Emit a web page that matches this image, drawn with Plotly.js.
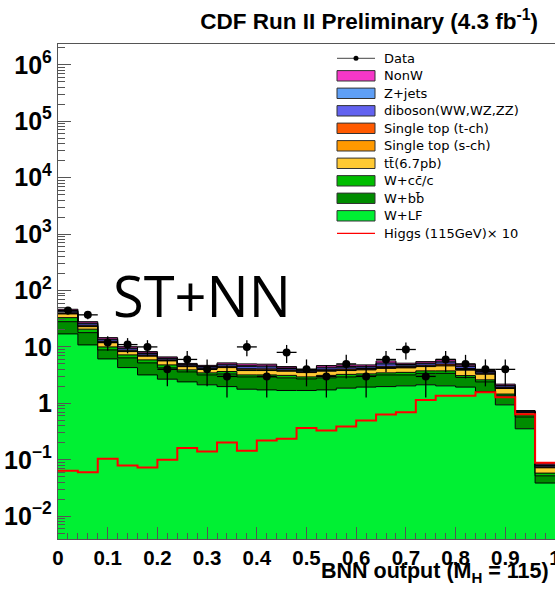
<!DOCTYPE html>
<html><head><meta charset="utf-8">
<script src="https://cdn.plot.ly/plotly-3.0.1.min.js"></script>
<style>html,body{margin:0;padding:0;background:#fff}#chart{width:555px;height:589px}</style>
</head><body><div id="chart"></div>
<script>
// ---- data ----
const binLow = [0.00,0.04,0.08,0.12,0.16,0.20,0.24,0.28,0.32,0.36,0.40,0.44,0.48,0.52,0.56,0.60,0.64,0.68,0.72,0.76,0.80,0.84,0.88,0.92,0.96];
const binHigh = 1.0;
const binWidth = 0.04;

const wLF     = [17.0,10.85,6.13,4.30,3.19,2.68,2.40,2.13,1.98,1.78,1.73,1.69,1.69,1.73,1.86,1.94,1.98,2.04,2.13,2.04,1.94,1.62,0.94,0.354,0.0387];
const wBB     = [11.0,7.05,2.72,2.09,2.02,1.57,1.21,1.06,1.35,1.16,1.21,1.14,1.02,1.10,1.08,1.13,1.21,1.15,1.27,1.36,0.94,0.78,0.42,0.22,0.0133];
const wCC     = [5.0,2.7,1.15,0.83,0.68,0.55,0.31,0.28,0.33,0.25,0.25,0.30,0.23,0.30,0.32,0.26,0.28,0.35,0.36,0.36,0.22,0.21,0.10,0.05,0.006];
const ttbar   = [5.4,2.3,1.9,1.04,0.96,0.85,0.55,0.53,0.64,0.62,0.62,0.58,0.57,0.58,0.55,0.59,0.69,0.71,0.72,0.85,0.77,0.68,0.37,0.055,0.014];
const stS     = [0.8,0.5,0.27,0.18,0.14,0.10,0.06,0.07,0.09,0.12,0.11,0.08,0.05,0.10,0.10,0.09,0.15,0.09,0.10,0.14,0.11,0.05,0.04,0.007,0.0013];
const stT     = [1.2,0.8,0.40,0.28,0.21,0.15,0.10,0.11,0.14,0.18,0.17,0.12,0.08,0.14,0.15,0.13,0.22,0.14,0.15,0.21,0.16,0.08,0.05,0.010,0.002];
const diboson = [2.4,1.5,0.80,0.55,0.42,0.30,0.19,0.21,0.28,0.36,0.34,0.23,0.16,0.29,0.30,0.26,0.45,0.27,0.30,0.42,0.32,0.16,0.11,0.020,0.004];
const zjets   = [1.2,0.8,0.40,0.28,0.21,0.15,0.09,0.11,0.13,0.18,0.17,0.11,0.08,0.14,0.15,0.13,0.22,0.13,0.15,0.21,0.16,0.08,0.05,0.010,0.002];
const nonW    = [2.5,1.5,0.83,0.55,0.43,0.30,0.19,0.21,0.27,0.35,0.34,0.23,0.15,0.29,0.29,0.27,0.45,0.27,0.31,0.42,0.32,0.15,0.11,0.019,0.0037];

const higgsX10   = [0.064,0.060,0.104,0.079,0.073,0.100,0.161,0.140,0.202,0.144,0.220,0.235,0.364,0.330,0.388,0.496,0.634,0.698,1.15,1.36,1.36,1.58,1.28,0.64,0.0885];
const dataCounts = [44,37,12,11,10,4,6,4,3,10,3,8,4,3,5,3,6,9,3,6,5,4,4,null,null];

// stack order: bottom -> top
const stackSeries = [wLF, wBB, wCC, ttbar, stS, stT, diboson, zjets, nonW];
const stackNames  = ['W+LF','W+bb\u0304','W+cc\u0304/c','tt\u0304(6.7pb)','Single top (s-ch)','Single top (t-ch)','diboson(WW,WZ,ZZ)','Z+jets','NonW'];
const stackColors = ['#00f033','#008c00','#00bd00','#ffc933','#ff9900','#ff5a00','#6262f0','#5f9ff5','#f637c8'];
const dataName  = 'Data';
const higgsName = 'Higgs (115GeV)\u00d7 10';

// ---- traces ----
const stepX = binLow.concat([binHigh]);
const traces = [];
let cum = binLow.map(() => 0);
stackSeries.forEach((s, k) => {
  cum = cum.map((c, i) => c + s[i]);
  traces.push({
    type: 'scatter', mode: 'lines', name: stackNames[k],
    x: stepX, y: cum.concat([cum[cum.length - 1]]),
    line: {shape: 'hv', color: '#000', width: 1},
    fill: k === 0 ? 'tozeroy' : 'tonexty',
    fillcolor: stackColors[k], hoverinfo: 'skip', showlegend: false
  });
});
traces.push({
  type: 'scatter', mode: 'lines', name: higgsName,
  x: stepX, y: higgsX10.concat([higgsX10[higgsX10.length - 1]]),
  line: {shape: 'hv', color: '#ff0000', width: 2}, showlegend: false
});
const centers = binLow.map(v => v + binWidth / 2);
traces.push({
  type: 'scatter', mode: 'markers', name: dataName,
  x: centers, y: dataCounts,
  marker: {color: '#000', size: 8},
  error_y: {type: 'data', array: dataCounts.map(v => v == null ? null : Math.sqrt(v)), width: 0, thickness: 1.3, color: '#000'},
  error_x: {type: 'constant', value: binWidth / 2, width: 0, thickness: 1.3, color: '#000'},
  showlegend: false
});

// ---- layout helpers (pixel -> paper) ----
const L = 58, T = 44, W = 497, H = 495;
const PX = px => (px - L) / W;
const PY = py => (T + H - py) / H;

const shapes = [];
const annotations = [];
// manual ROOT-style legend
const legendRows = [
  {name: dataName, kind: 'data'},
  {name: stackNames[8], color: stackColors[8]},
  {name: stackNames[7], color: stackColors[7]},
  {name: stackNames[6], color: stackColors[6]},
  {name: stackNames[5], color: stackColors[5]},
  {name: stackNames[4], color: stackColors[4]},
  {name: stackNames[3], color: stackColors[3]},
  {name: stackNames[2], color: stackColors[2]},
  {name: stackNames[1], color: stackColors[1]},
  {name: stackNames[0], color: stackColors[0]},
  {name: higgsName, kind: 'line'}
];
legendRows.forEach((r, i) => {
  const yc = 58.3 + 17.5 * i;
  if (r.kind === 'data') {
    shapes.push({type: 'line', xref: 'paper', yref: 'paper', x0: PX(337), x1: PX(375), y0: PY(yc), y1: PY(yc), line: {color: '#444', width: 1}});
    shapes.push({type: 'circle', xref: 'paper', yref: 'paper', x0: PX(353.5), x1: PX(358.5), y0: PY(yc - 2.5), y1: PY(yc + 2.5), fillcolor: '#000', line: {width: 0}});
  } else if (r.kind === 'line') {
    shapes.push({type: 'line', xref: 'paper', yref: 'paper', x0: PX(337), x1: PX(375), y0: PY(yc), y1: PY(yc), line: {color: '#ff0000', width: 1.3}});
  } else {
    shapes.push({type: 'rect', xref: 'paper', yref: 'paper', x0: PX(337), x1: PX(375), y0: PY(yc - 5.2), y1: PY(yc + 5.2), fillcolor: r.color, line: {color: '#333', width: 1}});
  }
  annotations.push({text: r.name, xref: 'paper', yref: 'paper', x: PX(382), y: PY(yc), xanchor: 'left', yanchor: 'middle', showarrow: false,
    font: {family: 'DejaVu Sans', size: 13, color: '#000'}});
});
annotations.push({text: 'ST+NN', xref: 'paper', yref: 'paper', x: PX(111), y: PY(295), xanchor: 'left', yanchor: 'middle', showarrow: false,
  font: {family: 'Open Sans', size: 56, color: '#000'}});
annotations.push({text: 'BNN output (M<sub>H</sub> = 115)', xref: 'paper', yref: 'paper', x: PX(551), y: PY(557), xanchor: 'right', yanchor: 'top', showarrow: false,
  font: {family: 'Liberation Sans', size: 21.5, color: '#000', weight: 'bold'}});

const layout = {
  width: 555, height: 589,
  margin: {l: L, r: 0, t: T, b: 589 - T - H},
  paper_bgcolor: '#fff', plot_bgcolor: '#fff',
  showlegend: false,
  font: {family: 'Liberation Sans', color: '#000'},
  title: {text: 'CDF Run II Preliminary (4.3 fb<sup>-1</sup>)', xref: 'container', yref: 'container',
    x: 538 / 555, xanchor: 'right', y: 1 - 21.3 / 589, yanchor: 'middle',
    font: {family: 'Liberation Sans', size: 22.5, color: '#000', weight: 'bold'}},
  xaxis: {range: [0, 1.00002], tick0: 0, dtick: 0.1, ticks: 'inside', ticklen: 12, tickwidth: 1, tickcolor: '#555',
    minor: {dtick: 0.02, ticks: 'inside', ticklen: 6, tickwidth: 1, tickcolor: '#555'},
    showline: true, linecolor: '#555', linewidth: 1.2, mirror: true, showgrid: false, zeroline: false,
    ticklabeloverflow: 'allow',
    tickfont: {family: 'Liberation Sans', size: 20.5, color: '#000', weight: 'bold'}, fixedrange: true},
  yaxis: {type: 'log', range: [-2.404, 6.368], dtick: 1, exponentformat: 'power', ticks: 'inside', ticklen: 13, tickwidth: 1, tickcolor: '#555',
    minor: {dtick: 'D1', ticks: 'inside', ticklen: 7, tickwidth: 1, tickcolor: '#555'},
    showline: true, linecolor: '#555', linewidth: 1.2, mirror: false, showgrid: false, zeroline: false,
    tickfont: {family: 'Liberation Sans', size: 20, color: '#000', weight: 'bold'}, ticklabelstandoff: 1, fixedrange: true},
  shapes: shapes,
  annotations: annotations
};
Plotly.newPlot('chart', traces, layout, {staticPlot: true});
</script>
</body></html>
